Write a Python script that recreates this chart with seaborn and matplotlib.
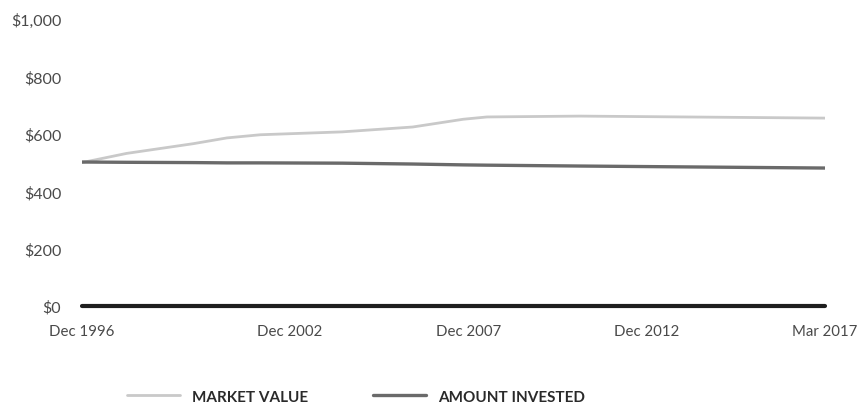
import numpy as np
import pandas as pd
import matplotlib.pyplot as plt
import seaborn as sns

# Data (x is position along the time axis, 0 = Dec 1996, 100 = Mar 2017)
period = [0, 6, 15, 19.5, 24, 35, 44.5, 51.3, 54.5, 67, 100]
market_value = [500, 532, 566, 586, 597, 607, 624, 651, 659, 662, 655]
amount_invested = [502, 501, 500, 499, 499, 498, 495, 492, 491, 488, 481]

tick_pos = [0, 28, 52, 76, 100]
tick_labels = ['Dec 1996', 'Dec 2002', 'Dec 2007', 'Dec 2012', 'Mar 2017']
y_ticks = [0, 200, 400, 600, 800, 1000]

df = pd.DataFrame({
    'period': period * 2,
    'value': market_value + amount_invested,
    'series': ['MARKET VALUE'] * len(period) + ['AMOUNT INVESTED'] * len(period),
})

sns.set_style('white')
plt.rcParams['font.family'] = ['Lato', 'DejaVu Sans']

fig = plt.figure(figsize=(8.58, 4.10), dpi=100)
ax = fig.add_axes([0.0956, 0.251, 0.866, 0.70])

palette = {'MARKET VALUE': '#c9c9c9', 'AMOUNT INVESTED': '#6a6a6a'}
widths = {'MARKET VALUE': 2.0, 'AMOUNT INVESTED': 2.4}
for name in ['MARKET VALUE', 'AMOUNT INVESTED']:
    sub = df[df['series'] == name]
    sns.lineplot(data=sub, x='period', y='value', color=palette[name],
                 lw=widths[name], ax=ax, label=name)

# heavy zero baseline
ax.axhline(0, color='#1e1e1e', lw=3.0, clip_on=False, zorder=1)

ax.set_xlim(0, 100)
ax.set_ylim(0, 1000)
ax.set_xticks(tick_pos)
ax.set_xticklabels(tick_labels)
ax.set_yticks(y_ticks)
ax.set_yticklabels(['$' + format(v, ',') for v in y_ticks])
ax.tick_params(axis='both', length=0, colors='#4a4a4a')
ax.tick_params(axis='x', pad=13, labelsize=10.8)
ax.tick_params(axis='y', pad=15, labelsize=11.5)
ax.set_xlabel('')
ax.set_ylabel('')
for s in ax.spines.values():
    s.set_visible(False)

ax.get_legend().remove()
handles, labels = ax.get_legend_handles_labels()
fig.legend(handles, labels, loc='center', bbox_to_anchor=(0.415, 0.03), ncol=2,
           frameon=False, handlelength=3.5, columnspacing=4.2, handletextpad=0.8,
           prop={'family': ['Lato', 'DejaVu Sans'], 'weight': 'bold', 'size': 11},
           labelcolor='#2a2a2a')

fig.savefig('out.png', dpi=100)
